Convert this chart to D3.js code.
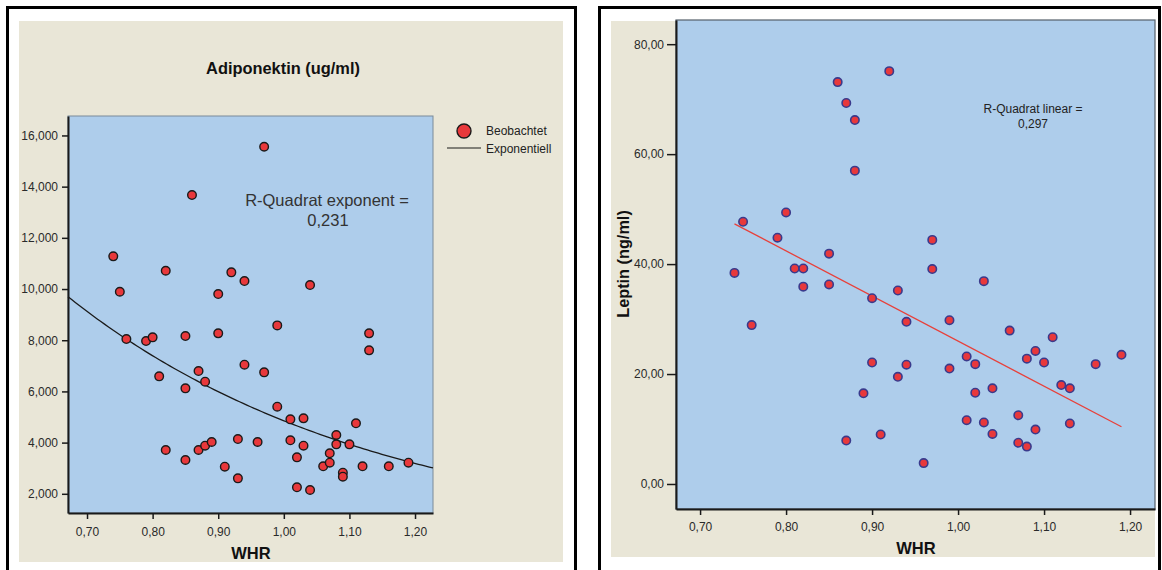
<!DOCTYPE html>
<html><head><meta charset="utf-8">
<script src="https://cdn.jsdelivr.net/npm/d3@7"></script>
<style>
body{margin:0;background:#fff;}
svg{display:block;font-family:"Liberation Sans",Arial,sans-serif;}
</style></head>
<body>
<svg id="c" width="1162" height="570"></svg>
<script>
// ---- Data ----
const adipoWHR = [0.74,0.75,0.76,0.79,0.80,0.81,0.82,0.82,0.85,0.85,0.85,0.86,0.87,0.87,0.88,0.88,0.89,0.90,0.90,0.91,0.92,0.93,0.93,0.94,0.94,0.96,0.97,0.97,0.99,0.99,1.01,1.01,1.02,1.02,1.03,1.03,1.04,1.04,1.06,1.07,1.07,1.08,1.08,1.09,1.09,1.10,1.11,1.12,1.13,1.13,1.16,1.19];
const adipoValues = [11277,9894,8046,7968,8112,6588,10714,3711,8163,6120,3320,13671,6796,3711,6380,3879,4023,9804,8268,3059,10652,4140,2604,10312,7044,4023,15558,6744,8580,5403,4909,4089,3424,2253,4948,3879,10155,2148,3074,3582,3215,4297,3932,2824,2668,3932,4753,3074,8268,7604,3074,3215];
const leptinWHR = [0.74,0.75,0.76,0.79,0.80,0.81,0.82,0.82,0.85,0.85,0.86,0.87,0.87,0.88,0.88,0.89,0.90,0.90,0.91,0.92,0.93,0.93,0.94,0.94,0.96,0.97,0.97,0.99,0.99,1.01,1.01,1.02,1.02,1.03,1.03,1.04,1.04,1.06,1.07,1.07,1.08,1.08,1.09,1.09,1.10,1.11,1.12,1.13,1.13,1.16,1.19];
const leptinValues = [38.4,47.7,28.9,44.8,49.4,39.2,39.2,35.9,41.9,36.3,73.1,69.3,7.9,66.2,57.0,16.5,33.8,22.1,9.0,75.1,35.2,19.5,29.5,21.7,3.8,44.4,39.1,29.8,21.0,23.2,11.6,21.8,16.6,36.9,11.2,17.4,9.1,27.9,12.5,7.5,22.8,6.8,24.2,9.9,22.1,26.7,18.0,17.4,11.0,21.8,23.5];
const whrTicks = [0.70,0.80,0.90,1.00,1.10,1.20];
const adipoTicks = [2000,4000,6000,8000,10000,12000,14000,16000];
const leptinTicks = [0,20,40,60,80];
// fit parameters
const expFit = {a:39800, b:-2.104, r2:"0,231"};
const linFit = {intercept:108.0, slope:-82.0, x0:0.74, x1:1.19, r2:"0,297"};

const svg = d3.select("#c");
const beige = "#e9e6d7", blue = "#aecdeb";
const fmtX = d => d3.format(".2f")(d).replace(".", ",");
const fmtAdipo = d3.format(",");
const fmtLep = d => d3.format(".2f")(d).replace(".", ",");

function styleAxis(g){
  g.selectAll(".domain").attr("stroke","#1a1a1a").attr("stroke-width",2);
  g.selectAll(".tick line").attr("stroke","#1a1a1a").attr("stroke-width",1.5);
  g.selectAll(".tick text").attr("fill","#2a2a2a").style("font-size","12px").style("font-family","\"Liberation Sans\",Arial,sans-serif");
}

// ================= LEFT PANEL =================
svg.append("rect").attr("x",19).attr("y",21).attr("width",544).attr("height",541).attr("fill",beige);
svg.append("rect").attr("x",7.5).attr("y",7.5).attr("width",568).attr("height",600).attr("fill","none").attr("stroke","#000").attr("stroke-width",3);

const L = {x0:68,x1:433,y0:116,y1:513};
const lx = d3.scaleLinear().domain([0.671,1.2274]).range([L.x0,L.x1]);
const ly = d3.scaleLinear().domain([1250,16760]).range([L.y1,L.y0]);
svg.append("rect").attr("x",L.x0).attr("y",L.y0).attr("width",L.x1-L.x0).attr("height",L.y1-L.y0)
  .attr("fill",blue).attr("stroke","#7a8a99").attr("stroke-width",1);

const lgX = svg.append("g").attr("transform",`translate(0,${L.y1})`)
  .call(d3.axisBottom(lx).tickValues(whrTicks).tickFormat(fmtX).tickSize(6).tickSizeOuter(0).tickPadding(8));
styleAxis(lgX);
const lgY = svg.append("g").attr("transform",`translate(${L.x0},0)`)
  .call(d3.axisLeft(ly).tickValues(adipoTicks).tickFormat(fmtAdipo).tickSize(6).tickSizeOuter(0).tickPadding(4));
styleAxis(lgY);

// fitted exponential curve
const curveX = d3.range(0,101).map(i => lx.domain()[0] + i/100*(lx.domain()[1]-lx.domain()[0]));
svg.append("path").datum(curveX)
  .attr("d", d3.line().x(d=>lx(d)).y(d=>ly(expFit.a*Math.exp(expFit.b*d))))
  .attr("fill","none").attr("stroke","#1a1a1a").attr("stroke-width",1.3);

svg.append("g").selectAll("circle").data(adipoWHR).join("circle")
  .attr("cx",(d)=>lx(d)).attr("cy",(d,i)=>ly(adipoValues[i])).attr("r",4.3)
  .attr("fill","#e8383b").attr("stroke","#1a1a1a").attr("stroke-width",1.4);

svg.append("text").attr("x",283).attr("y",74).attr("text-anchor","middle")
  .style("font-size","16.4px").style("font-weight","bold").attr("fill","#111").text("Adiponektin (ug/ml)");
svg.append("text").attr("x",251).attr("y",559).attr("text-anchor","middle")
  .style("font-size","16.5px").style("font-weight","bold").attr("fill","#111").text("WHR");
svg.append("text").attr("x",327).attr("y",206).attr("text-anchor","middle")
  .style("font-size","16.5px").attr("fill","#333").text("R-Quadrat exponent =");
svg.append("text").attr("x",328).attr("y",226).attr("text-anchor","middle")
  .style("font-size","16.5px").attr("fill","#333").text(expFit.r2);

// legend
svg.append("circle").attr("cx",464).attr("cy",131).attr("r",7).attr("fill","#e8383b").attr("stroke","#1a1a1a").attr("stroke-width",1.4);
svg.append("text").attr("x",486).attr("y",135).style("font-size","12px").attr("fill","#222").text("Beobachtet");
svg.append("line").attr("x1",447).attr("x2",481).attr("y1",148).attr("y2",148).attr("stroke","#1a1a1a").attr("stroke-width",1.2);
svg.append("text").attr("x",486).attr("y",153).style("font-size","12px").attr("fill","#222").text("Exponentiell");

// ================= RIGHT PANEL =================
svg.append("rect").attr("x",611).attr("y",21).attr("width",544).attr("height",536).attr("fill",beige);
svg.append("rect").attr("x",599.5).attr("y",7.5).attr("width",560).attr("height",600).attr("fill","none").attr("stroke","#000").attr("stroke-width",3);

const R = {x0:676,x1:1155,y0:20,y1:509};
const rx = d3.scaleLinear().domain([0.672,1.229]).range([R.x0,R.x1]);
const ry = d3.scaleLinear().domain([-4.55,84.4]).range([R.y1,R.y0]);
svg.append("rect").attr("x",R.x0).attr("y",R.y0).attr("width",R.x1-R.x0).attr("height",R.y1-R.y0)
  .attr("fill",blue).attr("stroke","#55606a").attr("stroke-width",1.2);

const rgX = svg.append("g").attr("transform",`translate(0,${R.y1})`)
  .call(d3.axisBottom(rx).tickValues(whrTicks).tickFormat(fmtX).tickSize(6).tickSizeOuter(0).tickPadding(7));
styleAxis(rgX);
const rgY = svg.append("g").attr("transform",`translate(${R.x0},0)`)
  .call(d3.axisLeft(ry).tickValues(leptinTicks).tickFormat(fmtLep).tickSize(9).tickSizeOuter(0).tickPadding(3));
styleAxis(rgY);

svg.append("line")
  .attr("x1",rx(linFit.x0)).attr("y1",ry(linFit.intercept+linFit.slope*linFit.x0))
  .attr("x2",rx(linFit.x1)).attr("y2",ry(linFit.intercept+linFit.slope*linFit.x1))
  .attr("stroke","#e8403a").attr("stroke-width",1.3);

svg.append("g").selectAll("circle").data(leptinWHR).join("circle")
  .attr("cx",d=>rx(d)).attr("cy",(d,i)=>ry(leptinValues[i])).attr("r",4.2)
  .attr("fill","#e8383b").attr("stroke","#3a3a8c").attr("stroke-width",1.6);

svg.append("text").attr("x",916).attr("y",554).attr("text-anchor","middle")
  .style("font-size","16.5px").style("font-weight","bold").attr("fill","#111").text("WHR");
svg.append("text").attr("transform","translate(629,264) rotate(-90)").attr("text-anchor","middle")
  .style("font-size","16.3px").style("font-weight","bold").attr("fill","#111").text("Leptin (ng/ml)");
svg.append("text").attr("x",1033).attr("y",113).attr("text-anchor","middle")
  .style("font-size","12px").attr("fill","#222").text("R-Quadrat linear =");
svg.append("text").attr("x",1033).attr("y",128).attr("text-anchor","middle")
  .style("font-size","12px").attr("fill","#222").text(linFit.r2);
</script>
</body></html>
